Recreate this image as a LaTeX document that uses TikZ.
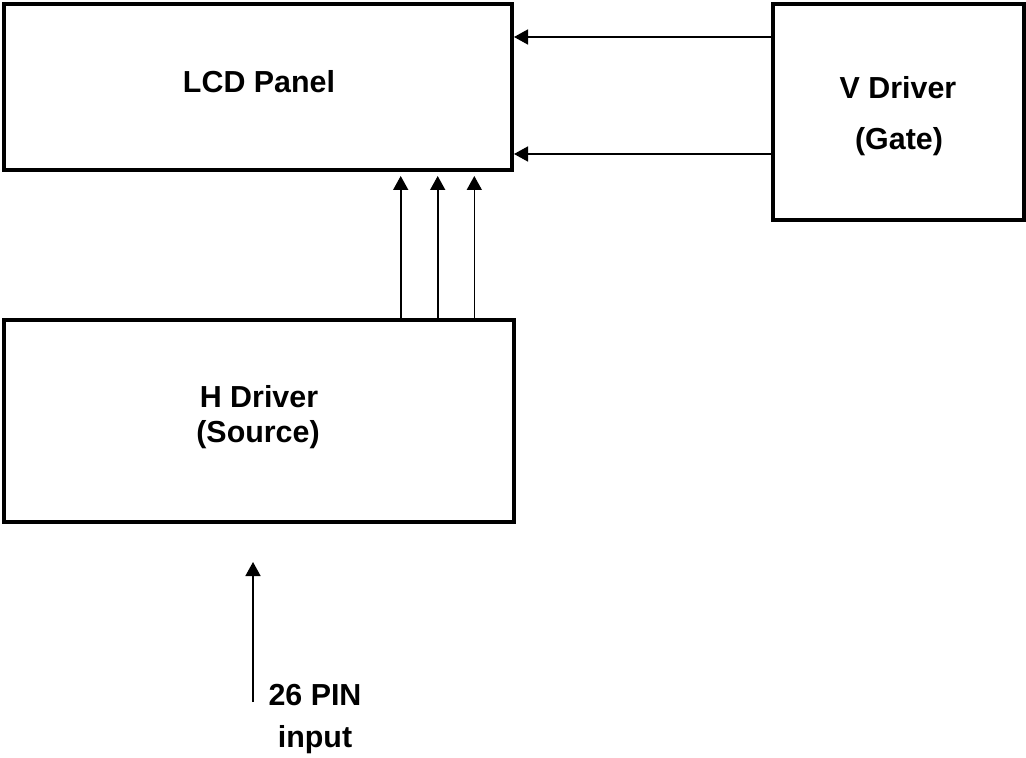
\documentclass[tikz,border=0pt]{standalone}
\usepackage{fontspec}
\setmainfont{Liberation Sans}
\usetikzlibrary{arrows.meta}
\begin{document}
\begin{tikzpicture}[x=0.5pt,y=-0.5pt,
  box/.style={draw, line width=2pt, rectangle, inner sep=0pt},
  arr/.style={line width=0.8pt, -{Triangle[length=7pt,width=7.5pt]}},
  lbl/.style={anchor=base, inner sep=0pt, font=\bfseries\fontsize{15.2pt}{18pt}\selectfont}]
\useasboundingbox (0,0) rectangle (1026,758);
% boxes
\node[box, minimum width=254pt, minimum height=83pt] (lcd) at (258,87) {};
\node[box, minimum width=125.5pt, minimum height=108pt] (vdrv) at (898.5,112) {};
\node[box, minimum width=255pt, minimum height=101pt] (hdrv) at (259,421) {};
% labels
\node[lbl] (lcdlbl) at (259,93) {LCD Panel};
\node[lbl] (vlbl1) at (898,99) {V Driver};
\node[lbl] (vlbl2) at (899,150) {(Gate)};
\node[lbl] (hlbl1) at (259,408) {H Driver};
\node[lbl] (hlbl2) at (258,442) {(Source)};
\node[lbl] (inlbl1) at (315,705) {26 PIN};
\node[lbl] (inlbl2) at (315,747) {input};
% helper coordinates
\coordinate (ya) at (0,37);
\coordinate (yb) at (0,154);
\coordinate (xa) at (400.7,0);
\coordinate (xb) at (437.7,0);
\coordinate (xc) at (474.3,0);
\coordinate (inA) at (253,702);
\coordinate (inB) at (253,562);
% connectors
\draw[arr] (vdrv.west |- ya) -- (lcd.east |- ya);
\draw[arr] (vdrv.west |- yb) -- (lcd.east |- yb);
\draw[arr, shorten >=2pt] (hdrv.north -| xa) -- (lcd.south -| xa);
\draw[arr, shorten >=2pt] (hdrv.north -| xb) -- (lcd.south -| xb);
\draw[arr, shorten >=2pt] (hdrv.north -| xc) -- (lcd.south -| xc);
\draw[arr] (inA) -- (inB);
\end{tikzpicture}
\end{document}
